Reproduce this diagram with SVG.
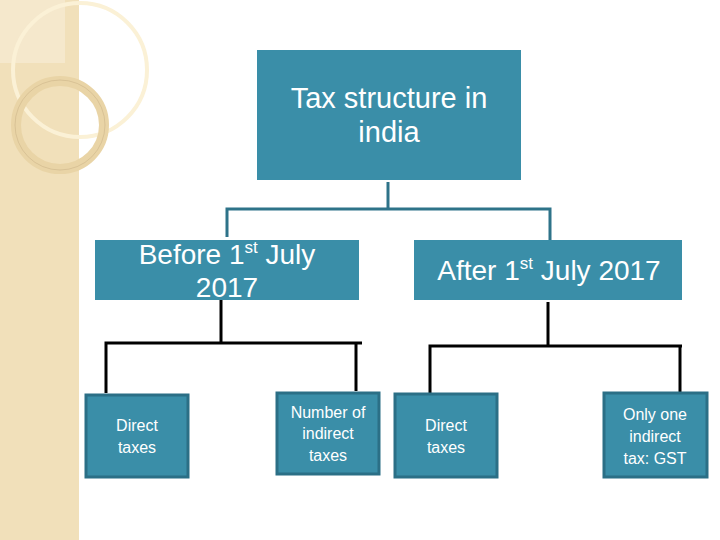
<svg xmlns="http://www.w3.org/2000/svg" width="720" height="540" viewBox="0 0 720 540">
<style>
.n{fill:#3a8ea8}
.b{fill:#3a8ea8;stroke:#2b6f86;stroke-width:3}
.t{fill:#fff;font-family:"Liberation Sans",Arial,sans-serif;text-anchor:middle}
.tc{stroke:#2e7389;stroke-width:3;fill:none}
.bk{stroke:#000;stroke-width:3;fill:none}
</style>
<rect width="720" height="540" fill="#fff"/>
<g id="bg">
<rect x="0" y="0" width="79" height="540" fill="#f1e0ba"/>
<rect x="0" y="0" width="65" height="63" fill="#f5e8cc"/>
<circle cx="80" cy="70" r="67" fill="none" stroke="#fbf1d6" stroke-width="4"/>
<circle cx="60" cy="125" r="44" fill="none" stroke="#e9d4a6" stroke-width="10"/>
<circle cx="60" cy="125" r="45" fill="none" stroke="#cdb58a" stroke-width="0.6" transform="translate(0,0)"/>
</g>
<g id="connectors">
<polyline class="tc" points="388,182 388,209"/>
<polyline class="tc" points="227,237 227,209 550,209 550,240"/>
<polyline class="bk" points="221,300 221,343"/>
<polyline class="bk" points="106,393 106,343 362,343"/>
<polyline class="bk" points="356,343 356,391"/>
<polyline class="bk" points="548,302 548,346"/>
<polyline class="bk" points="430,393 430,346 682,346"/>
<polyline class="bk" points="680,346 680,392"/>
</g>
<g id="root"><rect class="n" x="257" y="50" width="264" height="130"/>
<text class="t" x="389" y="108" font-size="29">Tax structure in</text>
<text class="t" x="389" y="142" font-size="29">india</text></g>
<g id="before"><rect class="n" x="95" y="240" width="264" height="60"/>
<text class="t" x="227" y="264" font-size="28">Before 1<tspan font-size="17" dy="-11">st</tspan><tspan dy="11"> July</tspan></text>
<text class="t" x="227" y="297" font-size="28">2017</text></g>
<g id="after"><rect class="n" x="414" y="240" width="268" height="60"/>
<text class="t" x="549" y="280" font-size="28">After 1<tspan font-size="17" dy="-11">st</tspan><tspan dy="11"> July 2017</tspan></text></g>
<g id="direct1"><rect class="b" x="86" y="395" width="102" height="82"/>
<text class="t" x="137" y="431" font-size="16">Direct</text><text class="t" x="137" y="453" font-size="16">taxes</text></g>
<g id="indirect"><rect class="b" x="277" y="393" width="102" height="81"/>
<text class="t" x="328" y="418" font-size="16">Number of</text><text class="t" x="328" y="439" font-size="16">indirect</text><text class="t" x="328" y="461" font-size="16">taxes</text></g>
<g id="direct2"><rect class="b" x="395" y="394" width="102" height="83"/>
<text class="t" x="446" y="431" font-size="16">Direct</text><text class="t" x="446" y="453" font-size="16">taxes</text></g>
<g id="gst"><rect class="b" x="604" y="393" width="103" height="84"/>
<text class="t" x="655" y="420" font-size="16">Only one</text><text class="t" x="655" y="442" font-size="16">indirect</text><text class="t" x="655" y="464" font-size="16">tax: GST</text></g>
</svg>
